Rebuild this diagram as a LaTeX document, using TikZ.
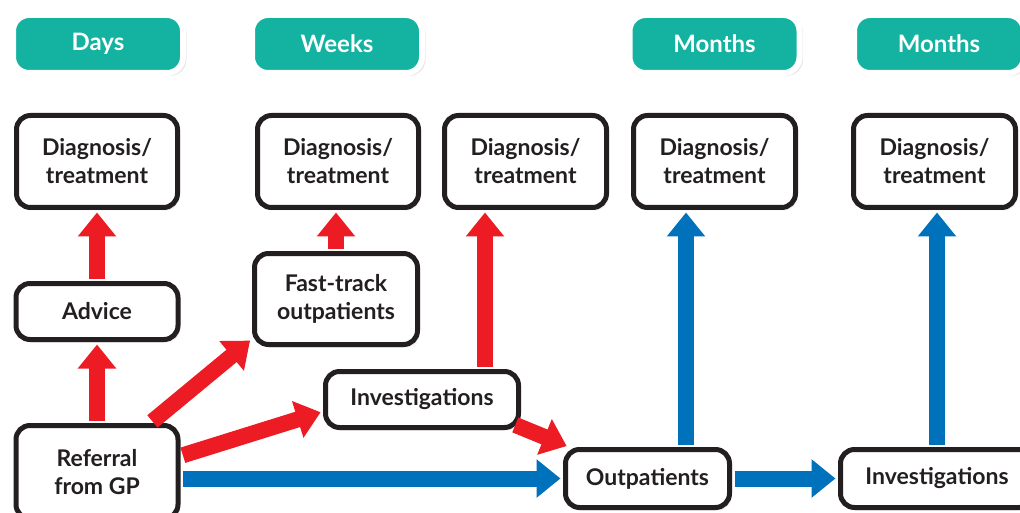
\documentclass[tikz,border=0pt]{standalone}
\usepackage{fontspec}
\setmainfont{Lato}
\usetikzlibrary{arrows.meta,shadows}
\definecolor{hdrteal}{HTML}{13B2A1}
\definecolor{arrred}{HTML}{ED1C24}
\definecolor{arrblue}{HTML}{0072BC}
\definecolor{boxline}{HTML}{231F20}

\begin{document}
\begin{tikzpicture}[x=1pt,y=-1pt,
        box/.style={draw=boxline,line width=5pt,fill=white,rounded corners=14pt,
          align=center,inner sep=0pt,text=boxline,
          font=\fontsize{23}{28}\selectfont\bfseries,
          drop shadow={opacity=0.15,shadow xshift=2pt,shadow yshift=-3pt}},
        hdr/.style={fill=hdrteal,draw=white,line width=6pt,rounded corners=16pt,
          minimum width=170pt,minimum height=58pt,text=white,
          font=\fontsize{24}{28}\selectfont\bfseries,
          drop shadow={opacity=0.18,shadow scale=1.03,shadow xshift=1pt,shadow yshift=-2pt}},
        redarr/.style={draw=arrred,line width=16pt,-{Triangle[width=37pt,length=24pt]},
          shorten >=2.5pt,shorten <=2.5pt},
        bluearr/.style={draw=arrblue,line width=16pt,-{Triangle[width=37pt,length=24pt]},
          shorten >=2.5pt,shorten <=2.5pt}]
      \path[use as bounding box,fill=white] (0,0) rectangle (1020,513);
      \clip (0,0) rectangle (1020,513);
      \node[hdr] (h1) at (98,44) {Days};
      \node[hdr] (h2) at (337,44) {Weeks};
      \node[hdr] (h3) at (714.5,44) {Months};
      \node[hdr] (h4) at (939,44) {Months};
      \node[box,minimum width=161pt,minimum height=92pt] (d1) at (97,161.5) {Diagnosis/\\treatment};
      \node[box,minimum width=161pt,minimum height=92pt] (d2) at (338,161.5) {Diagnosis/\\treatment};
      \node[box,minimum width=162pt,minimum height=92pt] (d3) at (525.5,161.5) {Diagnosis/\\treatment};
      \node[box,minimum width=162pt,minimum height=92pt] (d4) at (714.5,161.5) {Diagnosis/\\treatment};
      \node[box,minimum width=162pt,minimum height=92pt] (d5) at (934.5,161.5) {Diagnosis/\\treatment};
      \node[box,minimum width=162pt,minimum height=56pt] (adv) at (97,311.5) {Advice};
      \node[box,minimum width=163pt,minimum height=91pt] (ft) at (336,299) {Fast-track\\outpatients};
      \node[box,minimum width=193pt,minimum height=56pt] (inv1) at (422,399.5) {Investigations};
      \node[box,minimum width=162pt,minimum height=93pt] (ref) at (97,472) {Referral\\from GP};
      \node[box,minimum width=164pt,minimum height=58pt] (outp) at (647.5,478.5) {Outpatients};
      \node[box,minimum width=193pt,minimum height=58pt] (inv2) at (937,478.5) {Investigations};
      \draw[redarr] (adv) -- (d1);
      \draw[redarr] (ref) -- (adv);
      \draw[redarr] (ft.north) -- (ft.north |- d2.south);
      \draw[redarr] ([xshift=-36pt]inv1.north east) -- ([xshift=-36pt]inv1.north east |- d3.south);
      \draw[redarr] ([xshift=-30pt]ref.north east) -- ([yshift=8pt]ft.south west);
      \draw[redarr] ([yshift=16pt]ref.east) -- ([yshift=-12pt]inv1.west);
      \draw[redarr] ([xshift=-8pt,yshift=6pt]inv1.south east) -- ([xshift=6pt]outp.north west);
      \draw[bluearr] (ref.east |- outp) -- (outp);
      \draw[bluearr] (outp) -- (inv2);
      \draw[bluearr] ([xshift=-46pt]outp.north east) -- ([xshift=-46pt]outp.north east |- d4.south);
      \draw[bluearr] (inv2.north) -- (inv2.north |- d5.south);
    \end{tikzpicture}
\end{document}
